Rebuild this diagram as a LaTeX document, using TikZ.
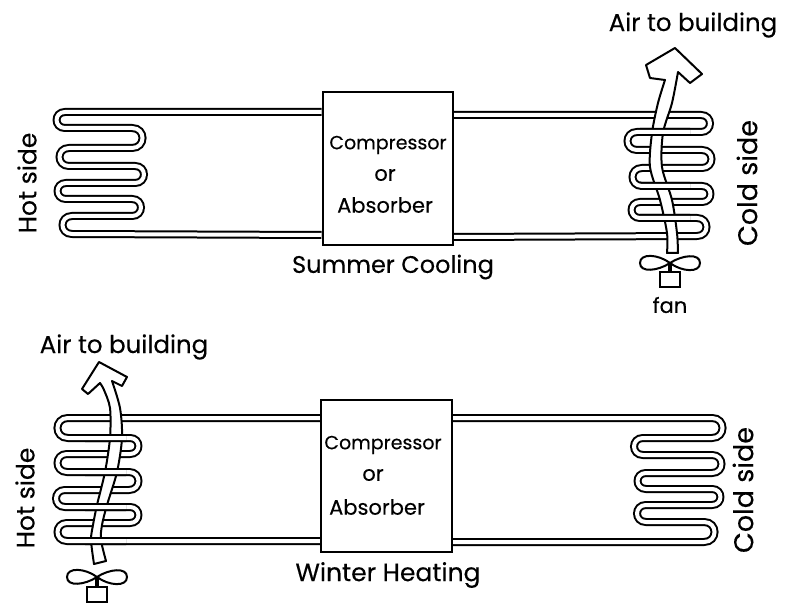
\documentclass[tikz,border=0pt]{standalone}
\usepackage{fontspec}
\setmainfont{Poppins}[FakeBold=0.25]
\tikzset{
  pipe/.style={draw=black, double=white, double distance=4pt, line width=2pt},
  rbend/.style={out=0, in=0, looseness=1.8},
  lbend/.style={out=180, in=180, looseness=1.8},
  unit/.style={rectangle, draw=black, line width=2pt, fill=white, inner sep=0pt},
  airflow/.style={draw=black, line width=2pt, fill=white, line join=round},
  lettering/.style={font=\fontsize{#1}{#1}\selectfont, inner sep=0pt},
  fanunit/.pic={
    \draw[line width=2pt] (0,0) .. controls (-12,-9) and (-30,-10) .. (-30,0) .. controls (-30,10) and (-12,8) .. (0,0)
      .. controls (12,-8) and (30,-10) .. (30,0) .. controls (30,10) and (12,9) .. (0,0);
    \node[unit, minimum width=20pt, minimum height=15pt] (-motor) at (0,17) {};
    \draw[line width=3.5pt] (0,0) -- (-motor.north);
  },
}
% the four coils
\newcommand{\coilhotsummer}{(comp1.west |- 0,112) -- (65,112) to[lbend] (65,128) -- (132,128) to[rbend] (132,148) -- (69,148) to[lbend] (69,166) -- (135,166) to[rbend] (135,183) -- (66,183) to[lbend] (66,199) -- (132,199) to[rbend] (132,216) -- (72,216) to[lbend] (72,234) -- (comp1.west |- 0,235)}
\newcommand{\coilcoldsummer}{(comp1.east |- 0,115) -- (701,115) to[rbend] (701,132) -- (637,132) to[lbend] (637,150) -- (702,150) to[rbend] (702,168) -- (642,168) to[lbend] (642,186) -- (702,186) to[rbend] (702,202) -- (640,202) to[lbend] (640,218) -- (697,218) to[rbend] (697,236) -- (comp1.east |- 0,237)}
\newcommand{\coilhotwinter}{(comp2.west |- 0,418) -- (68,418) to[lbend] (68,438) -- (130,438) to[rbend] (130,454) -- (67,454) to[lbend] (67,472) -- (129,472) to[rbend] (129,490) -- (65,490) to[lbend] (65,507) -- (130,507) to[rbend] (130,523) -- (67,523) to[lbend] (67,541) -- (comp2.west |- 0,541)}
\newcommand{\coilcoldwinter}{(comp2.east |- 0,418) -- (712,418) to[rbend] (712,438) -- (643,438) to[lbend] (643,455) -- (712,455) to[rbend] (712,473) -- (646,473) to[lbend] (646,489) -- (712,489) to[rbend] (712,505) -- (646,505) to[lbend] (646,522) -- (704,522) to[rbend] (704,542) -- (comp2.east |- 0,542)}

\begin{document}
\begin{tikzpicture}[x=1pt, y=-1pt]
  \useasboundingbox (0,0) rectangle (796,604);

  % summer
  \node[unit, minimum width=130pt, minimum height=153pt] (comp1) at (387.5,168.5) {};
  \draw[pipe] \coilhotsummer;
  \draw[pipe] \coilcoldsummer;
  \draw[airflow] plot[smooth] coordinates {(667,253) (667,233) (660,200) (650,167) (652,133) (658,103) (665,80)}
    -- (650,78) -- (646,65) -- (675,48) -- (702,74) -- (690,83) -- (678,72)
    -- plot[smooth] coordinates {(678,72) (672,103) (663,133) (662,167) (672,200) (677,233) (678,253)} -- cycle;
  \begin{scope}
    \clip (640,127) rectangle (690,138) (640,180) rectangle (690,192) (640,212) rectangle (690,224);
    \draw[pipe] \coilcoldsummer;
  \end{scope}
  \node[unit, minimum width=130pt, minimum height=153pt] at (comp1) {};
  \pic (fan1) at (670,263) {fanunit};

  \node[lettering=19] (comptxt1) at (388,145) {Compressor};
  \node[lettering=21] (ortxt1) at (385,175) {or};
  \node[lettering=21] (abstxt1) at (385,205) {Absorber};
  \node[lettering=24] (title1) at (393,267) {Summer Cooling};
  \node[lettering=25, rotate=90] (hot1) at (27,183) {Hot side};
  \node[lettering=27, rotate=90] (cold1) at (747,183) {Cold side};
  \node[lettering=24.5] (air1) at (693,25) {Air to building};
  \node[lettering=21] (fanlabel) at (670,305) {fan};

  % winter
  \node[unit, minimum width=131pt, minimum height=152pt] (comp2) at (386.5,476) {};
  \draw[pipe] \coilhotwinter;
  \draw[pipe] \coilcoldwinter;
  \draw[airflow] plot[smooth] coordinates {(94,564) (91,540) (93,525) (97,505) (105,472) (110,438) (110,408) (104,390) (100,383)}
    -- (88,394) -- (82,389) -- (99,362) -- (127,377) -- (122,386) -- (112,381)
    -- plot[smooth] coordinates {(112,381) (120,408) (122,438) (117,472) (107,505) (102,525) (101,540) (106,561)} -- cycle;
  \begin{scope}
    \clip (85,433) rectangle (126,444) (85,467) rectangle (126,478) (85,502) rectangle (126,513) (85,535) rectangle (126,547);
    \draw[pipe] \coilhotwinter;
  \end{scope}
  \node[unit, minimum width=131pt, minimum height=152pt] at (comp2) {};
  \pic (fan2) at (97,577) {fanunit};

  \node[lettering=19] (comptxt2) at (383,445) {Compressor};
  \node[lettering=21] (ortxt2) at (373,475) {or};
  \node[lettering=21] (abstxt2) at (377,507) {Absorber};
  \node[lettering=25] (title2) at (388,575) {Winter Heating};
  \node[lettering=25, rotate=90] (hot2) at (25,498) {Hot side};
  \node[lettering=27, rotate=90] (cold2) at (743,490) {Cold side};
  \node[lettering=24.5] (air2) at (124,347) {Air to building};
\end{tikzpicture}
\end{document}
